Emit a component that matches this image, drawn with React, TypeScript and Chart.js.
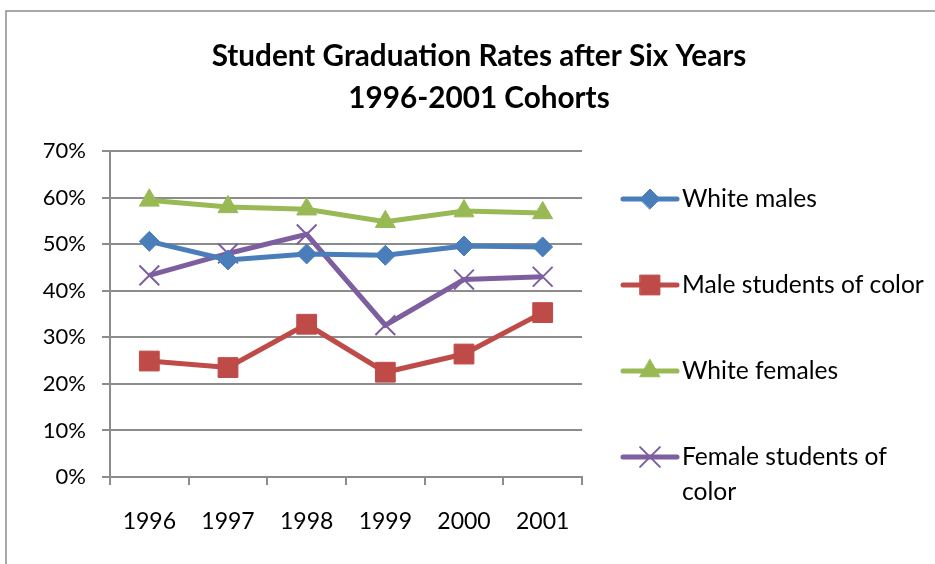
import { useEffect, useRef } from "react";
import { Chart, registerables } from "chart.js";
import { drawPoint } from "chart.js/helpers";

Chart.register(...registerables);

const years = ["1996", "1997", "1998", "1999", "2000", "2001"];
const whiteMales = [50.6, 46.6, 47.9, 47.6, 49.6, 49.4];
const maleStudentsOfColor = [24.9, 23.5, 32.8, 22.5, 26.4, 35.3];
const whiteFemales = [59.4, 58.0, 57.5, 54.8, 57.1, 56.7];
const femaleStudentsOfColor = [43.3, 48.0, 52.1, 32.6, 42.4, 43.0];
const yMin = 0;
const yMax = 70;
const yStep = 10;
const titleLines = ["Student Graduation Rates after Six Years", "1996-2001 Cohorts"];
const seriesNames = ["White males", "Male students of color", "White females", "Female students of color"];
const legendLines = [["White males"], ["Male students of color"], ["White females"], ["Female students of", "color"]];

const FONT = "Lato, 'Open Sans', sans-serif";

const framePlugin = {
  id: "frame",
  beforeDraw(chart: any) {
    const ctx = chart.ctx;
    ctx.save();
    ctx.strokeStyle = "#8c8c8c";
    ctx.lineWidth = 1.5;
    ctx.beginPath();
    ctx.moveTo(chart.width, 11);
    ctx.lineTo(6, 11);
    ctx.lineTo(6, chart.height);
    ctx.stroke();
    ctx.restore();
  },
  afterDraw(chart: any) {
    const ctx = chart.ctx;
    ctx.save();
    // title
    ctx.fillStyle = "#000";
    ctx.font = `bold 29.7px ${FONT}`;
    ctx.textAlign = "center";
    ctx.textBaseline = "middle";
    titleLines.forEach((t, i) => ctx.fillText(t, 479, 56 + i * 42));
    // legend
    const ca = chart.chartArea;
    const x0 = ca.right + 41;
    const x1 = x0 + 54;
    let y = ca.top + 48;
    chart.data.datasets.forEach((ds: any, i: number) => {
      ctx.strokeStyle = ds.borderColor;
      ctx.lineWidth = ds.borderWidth;
      ctx.lineCap = "round";
      ctx.beginPath();
      ctx.moveTo(x0, y);
      ctx.lineTo(x1, y);
      ctx.stroke();
      ctx.fillStyle = ds.pointBackgroundColor;
      ctx.strokeStyle = ds.pointBorderColor;
      ctx.lineWidth = ds.pointBorderWidth;
      drawPoint(ctx, { pointStyle: ds.pointStyle, radius: ds.pointRadius, borderWidth: ds.pointBorderWidth, rotation: 0 }, (x0 + x1) / 2, y);
      ctx.fillStyle = "#000";
      ctx.font = `24.6px ${FONT}`;
      ctx.textAlign = "left";
      ctx.textBaseline = "middle";
      legendLines[i].forEach((l, j) => ctx.fillText(l, x1 + 5, y + j * 35));
      y += 86;
    });
    ctx.restore();
  },
};

export default function App() {
  const ref = useRef<HTMLCanvasElement>(null);
  useEffect(() => {
    const mk = (label: string, data: number[], color: string, style: string, radius: number, bw: number) => ({
      label,
      data,
      borderColor: color,
      backgroundColor: color,
      borderWidth: 5,
      pointStyle: style,
      pointRadius: radius,
      pointHoverRadius: radius,
      pointBackgroundColor: color,
      pointBorderColor: color,
      pointBorderWidth: bw,
      tension: 0,
    });
    const chart = new Chart(ref.current!, {
      type: "line",
      data: {
        labels: years,
        datasets: [
          mk(seriesNames[0], whiteMales, "#4a7ebb", "rectRot", 10, 1),
          mk(seriesNames[1], maleStudentsOfColor, "#be4b48", "rect", 14, 1),
          mk(seriesNames[2], whiteFemales, "#98b954", "triangle", 11.5, 1),
          mk(seriesNames[3], femaleStudentsOfColor, "#7d5fa0", "crossRot", 14, 2),
        ],
      },
      options: {
        animation: false,
        responsive: false,
        devicePixelRatio: 1,
        layout: { padding: { left: 10, top: 151, right: 353, bottom: 7 } },
        plugins: { legend: { display: false }, title: { display: false }, tooltip: { enabled: false } },
        scales: {
          x: {
            offset: true,
            afterFit: (s: any) => { s.height = 80; },
            grid: { offset: true, drawOnChartArea: false, drawTicks: true, tickLength: 8, color: "#8c8c8c", lineWidth: 2 },
            border: { color: "#8c8c8c", width: 2 },
            ticks: { color: "#000", font: { family: FONT, size: 23 }, padding: 23, maxRotation: 0 },
          },
          y: {
            min: yMin,
            max: yMax,
            afterFit: (s: any) => { s.width = 100; },
            grid: { color: "#8c8c8c", lineWidth: 2, tickLength: 8 },
            border: { color: "#8c8c8c", width: 2 },
            ticks: { stepSize: yStep, color: "#000", font: { family: FONT, size: 22 }, padding: 16, callback: (v: any) => v + "%" },
          },
        },
      },
      plugins: [framePlugin],
    });
    return () => chart.destroy();
  }, []);
  return (
    <div style={{ position: "fixed", left: 0, top: 0, width: 935, height: 564, background: "#fff" }}>
      <canvas ref={ref} width={935} height={564} style={{ display: "block" }} />
    </div>
  );
}
